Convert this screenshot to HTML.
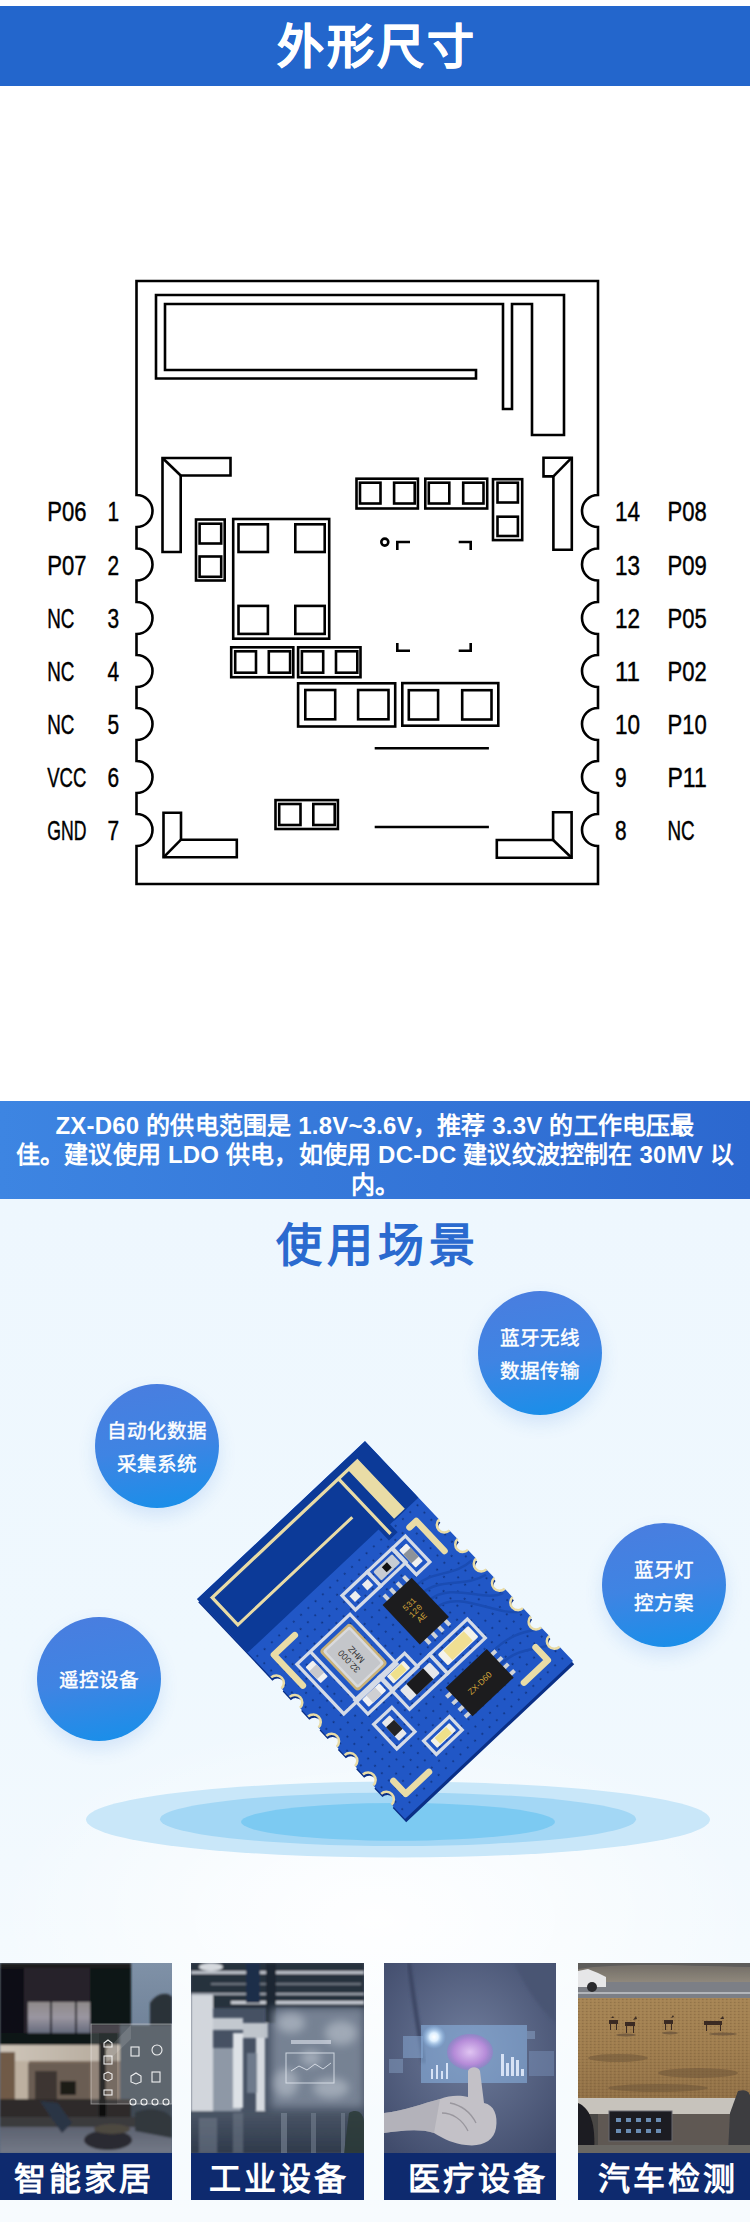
<!DOCTYPE html>
<html lang="zh-CN"><head><meta charset="utf-8">
<style>
*{margin:0;padding:0;box-sizing:border-box}
html,body{width:750px;height:2222px;overflow:hidden;background:#fff;font-family:"Liberation Sans",sans-serif;text-spacing-trim:space-all}
.abs{position:absolute}
#hdr{left:0;top:6px;width:750px;height:80px;background:#2366cc;color:#fff;font-size:47px;font-weight:bold;text-align:center;line-height:82px;letter-spacing:3px;text-indent:3px;overflow:hidden;-webkit-text-stroke:0.4px #fff}
#diag{left:0;top:86px;width:750px;height:1014px}
#note{left:0;top:1101px;width:750px;height:98.5px;background:linear-gradient(90deg,#3d85e2,#2c68cf);color:#fff;font-weight:bold;font-size:24px;line-height:29.4px;text-align:center;padding-top:10px;white-space:nowrap;letter-spacing:0.2px}
#scene{left:0;top:1199px;width:750px;height:1023px;background:radial-gradient(ellipse 380px 200px at 375px 720px,rgba(255,255,255,0.95),rgba(255,255,255,0) 100%),linear-gradient(180deg,#eef7fe 0%,#eff8fe 45%,#f2f9fe 65%,#f6fbfe 80%,#f7fbfe 100%)}
#h2{left:0;top:1213px;width:750px;text-align:center;color:#2a6acf;font-size:46px;font-weight:bold;line-height:64px;letter-spacing:5px;text-indent:5px}
.bub{position:absolute;width:124px;height:124px;border-radius:50%;background:linear-gradient(170deg,#4a7ddf 0%,#3f84e3 50%,#1590ea 100%);color:#fff;font-size:19.5px;font-weight:400;-webkit-text-stroke:0.45px #fff;text-align:center;display:flex;flex-direction:column;justify-content:center;line-height:33px;padding-top:3px;box-shadow:0 8px 18px rgba(50,120,220,0.15)}
.card{position:absolute;top:1963px;height:237px;overflow:hidden}
.card .ph{position:absolute;left:0;top:0;width:100%;height:190px}
.card .lb{position:absolute;left:0;top:190px;width:100%;height:47px;background:#0e2a6e;color:#fff;font-size:32px;font-weight:bold;text-align:center;line-height:52px;letter-spacing:3px;text-indent:-4px;overflow:hidden}
</style></head><body>
<div id="hdr" class="abs">外形尺寸</div>
<svg id="diag" class="abs" width="750" height="1014" viewBox="0 86 750 1014">
<g fill="none" stroke="#000" stroke-width="2.6" stroke-linejoin="miter">
<path d="M136.5,281 H598 V495 A16,16 0 0 0 598,527 V548.5 A16,16 0 0 0 598,580.5 V602 A16,16 0 0 0 598,634 V655 A16,16 0 0 0 598,687 V708 A16,16 0 0 0 598,740 V761 A16,16 0 0 0 598,793 V814 A16,16 0 0 0 598,846 V884 H136.5 V846 A16,16 0 0 0 136.5,814 V793 A16,16 0 0 0 136.5,761 V740 A16,16 0 0 0 136.5,708 V687 A16,16 0 0 0 136.5,655 V634 A16,16 0 0 0 136.5,602 V580.5 A16,16 0 0 0 136.5,548.5 V527 A16,16 0 0 0 136.5,495 Z"/>
<path d="M156,295 L564,295 L564,435 L532,435 L532,304 L512,304 L512,409 L503,409 L503,304 L165,304 L165,370 L476,370 L476,378.5 L156,378.5 Z"/>
<path d="M162.5,458 L230.5,458 L230.5,475.5 L180.7,475.5 L180.7,552 L162.5,552 Z"/>
<path d="M162.5,458 L180.7,475.5"/>
<path d="M543.5,457.7 L571.8,457.7 L571.8,549.8 L553.4,549.8 L553.4,476.4 L543.5,476.4 Z"/>
<path d="M553.4,476.4 L571.8,457.7"/>
<path d="M163.5,812.7 L181,812.7 L181,839.7 L236.8,839.7 L236.8,857.3 L163.5,857.3 Z"/>
<path d="M163.5,857.3 L181,839.7"/>
<path d="M496.8,840 L553.1,840 L553.1,812.2 L571.6,812.2 L571.6,857.7 L496.8,857.7 Z"/>
<path d="M553.1,840 L571.6,857.7"/>
<rect x="196" y="519.5" width="28.7" height="61.0"/>
<rect x="199.6" y="523.7" width="21.6" height="19.8"/>
<rect x="199.6" y="556.5" width="21.6" height="20.3"/>
<rect x="233.2" y="519" width="96.0" height="119.7"/>
<rect x="238.5" y="524.3" width="29.4" height="27.7"/>
<rect x="295.3" y="524.3" width="29.4" height="27.7"/>
<rect x="238.5" y="605.9" width="29.4" height="28.0"/>
<rect x="295.3" y="605.9" width="29.4" height="28.0"/>
<rect x="356.5" y="478.7" width="61.4" height="29.8"/>
<rect x="360" y="482.7" width="20.5" height="20.8"/>
<rect x="394.1" y="482.7" width="20.6" height="20.8"/>
<rect x="425.3" y="478.7" width="61.9" height="29.8"/>
<rect x="428.8" y="482.7" width="20.5" height="20.8"/>
<rect x="463.2" y="482.7" width="20.3" height="20.8"/>
<rect x="493" y="479.2" width="29.2" height="60.9"/>
<rect x="497.5" y="482.7" width="20.4" height="19.8"/>
<rect x="497.5" y="516.7" width="20.4" height="19.3"/>
<rect x="231.2" y="647.3" width="62.1" height="29.9"/>
<rect x="235.2" y="651.3" width="20.8" height="21.4"/>
<rect x="268.8" y="651.3" width="21.3" height="21.4"/>
<rect x="298.1" y="647.3" width="62.4" height="29.9"/>
<rect x="301.9" y="651.3" width="21.3" height="21.4"/>
<rect x="336" y="651.3" width="21.3" height="21.4"/>
<rect x="298.1" y="683.3" width="97.1" height="43.2"/>
<rect x="305.3" y="690" width="29.9" height="29.3"/>
<rect x="358.1" y="690" width="30.4" height="29.3"/>
<rect x="402.3" y="683.1" width="96.0" height="42.6"/>
<rect x="408.8" y="690.2" width="29.3" height="29.3"/>
<rect x="462.2" y="690.2" width="29.3" height="29.3"/>
<rect x="275.5" y="800.1" width="62.4" height="28.9"/>
<rect x="279.2" y="804" width="21.3" height="21"/>
<rect x="313.3" y="804" width="21.4" height="21"/>
<circle cx="384.8" cy="542.1" r="3.5"/>
<path d="M397.3,550 V542 H410 M458.7,542 H470.7 V550 M397.3,643 V650.7 H410 M458.7,650.7 H470.7 V643"/>
<path d="M374.7,748.2 L488.9,748.2"/>
<path d="M374.7,827 L488.9,827"/>
</g>
<g fill="#000" font-family="Liberation Sans" font-size="28" stroke="#000" stroke-width="0.45">
<text x="47.2" y="521" textLength="39.2" lengthAdjust="spacingAndGlyphs">P06</text>
<text x="107.4" y="521" textLength="11.6" lengthAdjust="spacingAndGlyphs">1</text>
<text x="47.2" y="574.5" textLength="39.2" lengthAdjust="spacingAndGlyphs">P07</text>
<text x="107.4" y="574.5" textLength="11.6" lengthAdjust="spacingAndGlyphs">2</text>
<text x="47.2" y="628" textLength="27.2" lengthAdjust="spacingAndGlyphs">NC</text>
<text x="107.4" y="628" textLength="11.6" lengthAdjust="spacingAndGlyphs">3</text>
<text x="47.2" y="681" textLength="27.2" lengthAdjust="spacingAndGlyphs">NC</text>
<text x="107.4" y="681" textLength="11.6" lengthAdjust="spacingAndGlyphs">4</text>
<text x="47.2" y="734" textLength="27.2" lengthAdjust="spacingAndGlyphs">NC</text>
<text x="107.4" y="734" textLength="11.6" lengthAdjust="spacingAndGlyphs">5</text>
<text x="47.2" y="787" textLength="39.2" lengthAdjust="spacingAndGlyphs">VCC</text>
<text x="107.4" y="787" textLength="11.6" lengthAdjust="spacingAndGlyphs">6</text>
<text x="47.2" y="840" textLength="39.2" lengthAdjust="spacingAndGlyphs">GND</text>
<text x="107.4" y="840" textLength="11.6" lengthAdjust="spacingAndGlyphs">7</text>
<text x="615" y="521" textLength="25" lengthAdjust="spacingAndGlyphs">14</text>
<text x="667.5" y="521" textLength="39.2" lengthAdjust="spacingAndGlyphs">P08</text>
<text x="615" y="574.5" textLength="25" lengthAdjust="spacingAndGlyphs">13</text>
<text x="667.5" y="574.5" textLength="39.2" lengthAdjust="spacingAndGlyphs">P09</text>
<text x="615" y="628" textLength="25" lengthAdjust="spacingAndGlyphs">12</text>
<text x="667.5" y="628" textLength="39.2" lengthAdjust="spacingAndGlyphs">P05</text>
<text x="615" y="681" textLength="25" lengthAdjust="spacingAndGlyphs">11</text>
<text x="667.5" y="681" textLength="39.2" lengthAdjust="spacingAndGlyphs">P02</text>
<text x="615" y="734" textLength="25" lengthAdjust="spacingAndGlyphs">10</text>
<text x="667.5" y="734" textLength="39.2" lengthAdjust="spacingAndGlyphs">P10</text>
<text x="615" y="787" textLength="11.6" lengthAdjust="spacingAndGlyphs">9</text>
<text x="667.5" y="787" textLength="39.2" lengthAdjust="spacingAndGlyphs">P11</text>
<text x="615" y="840" textLength="11.6" lengthAdjust="spacingAndGlyphs">8</text>
<text x="667.5" y="840" textLength="27.2" lengthAdjust="spacingAndGlyphs">NC</text>
</g>
</svg>
<div id="note" class="abs">ZX-D60 的供电范围是 1.8V~3.6V，推荐 3.3V 的工作电压最<br>佳。建议使用 LDO 供电，如使用 DC-DC 建议纹波控制在 30MV 以<br>内。</div>
<div id="scene" class="abs"></div>
<div id="h2" class="abs">使用场景</div>
<svg id="pcbsvg" class="abs" style="left:0;top:1380px" width="750" height="500" viewBox="0 1380 750 500">
<ellipse cx="398" cy="1819.6" rx="312" ry="38" fill="#c9e7f9"/>
<ellipse cx="398" cy="1819.3" rx="238" ry="26.7" fill="#a3d7f5"/>
<ellipse cx="398" cy="1821.9" rx="157" ry="18.9" fill="#7ccaf2"/>
<!--PCB-->
<g transform="translate(1.2,3.2)"><path transform="matrix(0.36403,-0.34236,0.34494,0.36484,50.38,1543.21)" d="M136.5,281 H598 V496 A15,15 0 0 0 598,526 V549.5 A15,15 0 0 0 598,579.5 V603 A15,15 0 0 0 598,633 V656 A15,15 0 0 0 598,686 V709 A15,15 0 0 0 598,739 V762 A15,15 0 0 0 598,792 V815 A15,15 0 0 0 598,845 V884 H136.5 V845 A15,15 0 0 0 136.5,815 V792 A15,15 0 0 0 136.5,762 V739 A15,15 0 0 0 136.5,709 V686 A15,15 0 0 0 136.5,656 V633 A15,15 0 0 0 136.5,603 V579.5 A15,15 0 0 0 136.5,549.5 V526 A15,15 0 0 0 136.5,496 Z" fill="#0a2f86"/></g>
<g transform="matrix(0.36403,-0.34236,0.34494,0.36484,50.38,1543.21)">
<defs><clipPath id="bc"><path d="M136.5,281 H598 V496 A15,15 0 0 0 598,526 V549.5 A15,15 0 0 0 598,579.5 V603 A15,15 0 0 0 598,633 V656 A15,15 0 0 0 598,686 V709 A15,15 0 0 0 598,739 V762 A15,15 0 0 0 598,792 V815 A15,15 0 0 0 598,845 V884 H136.5 V845 A15,15 0 0 0 136.5,815 V792 A15,15 0 0 0 136.5,762 V739 A15,15 0 0 0 136.5,709 V686 A15,15 0 0 0 136.5,656 V633 A15,15 0 0 0 136.5,603 V579.5 A15,15 0 0 0 136.5,549.5 V526 A15,15 0 0 0 136.5,496 Z"/></clipPath><pattern id="vias" width="20" height="20" patternUnits="userSpaceOnUse"><circle cx="6" cy="6" r="2.1" fill="#0a2a70"/></pattern></defs>
<path d="M136.5,281 H598 V496 A15,15 0 0 0 598,526 V549.5 A15,15 0 0 0 598,579.5 V603 A15,15 0 0 0 598,633 V656 A15,15 0 0 0 598,686 V709 A15,15 0 0 0 598,739 V762 A15,15 0 0 0 598,792 V815 A15,15 0 0 0 598,845 V884 H136.5 V845 A15,15 0 0 0 136.5,815 V792 A15,15 0 0 0 136.5,762 V739 A15,15 0 0 0 136.5,709 V686 A15,15 0 0 0 136.5,656 V633 A15,15 0 0 0 136.5,603 V579.5 A15,15 0 0 0 136.5,549.5 V526 A15,15 0 0 0 136.5,496 Z" fill="#2157c6"/>
<g clip-path="url(#bc)">
<path d="M130,275 H610 V436 H520 V458 H496 V428 H130 Z" fill="#0c3a98"/>
<rect x="140" y="440" width="450" height="440" fill="url(#vias)" opacity="0.8"/>
<g fill="none" stroke="#1a4cb3" stroke-width="5"><path d="M470,560 C520,560 540,600 590,600"/><path d="M470,580 C520,580 540,630 590,640"/><path d="M470,600 C530,600 550,680 590,690"/><path d="M470,620 C530,620 550,720 590,740"/><path d="M489,760 C540,760 560,770 590,790"/><path d="M489,790 C540,790 560,820 590,830"/></g>
</g>
<path d="M156,295 L564,295 L564,435 L532,435 L532,304 L512,304 L512,452 L503,452 L503,304 L165,304 L165,370 L476,370 L476,378.5 L156,378.5 Z" fill="#e9dca6" stroke="#0c3a98" stroke-width="2.5" stroke-linejoin="round"/>
<g fill="none" stroke="#e9dca6" stroke-width="13" stroke-linecap="round" stroke-linejoin="round"><path d="M229,467 H171.5 V551"/><path d="M544,467 H562.5 V549"/><path d="M172,813 V848.5 H236"/><path d="M497,848.5 H562.5 V813"/></g>
<path d="M598,496 A15,15 0 0 0 598,526 M136.5,526 A15,15 0 0 0 136.5,496 M598,549.5 A15,15 0 0 0 598,579.5 M136.5,579.5 A15,15 0 0 0 136.5,549.5 M598,603 A15,15 0 0 0 598,633 M136.5,633 A15,15 0 0 0 136.5,603 M598,656 A15,15 0 0 0 598,686 M136.5,686 A15,15 0 0 0 136.5,656 M598,709 A15,15 0 0 0 598,739 M136.5,739 A15,15 0 0 0 136.5,709 M598,762 A15,15 0 0 0 598,792 M136.5,792 A15,15 0 0 0 136.5,762 M598,815 A15,15 0 0 0 598,845 M136.5,845 A15,15 0 0 0 136.5,815" fill="none" stroke="#e9dca6" stroke-width="5"/>
<g fill="none" stroke="#d5dbe6" stroke-width="6.5"><rect x="192" y="512" width="146" height="136"/><rect x="352" y="474" width="70" height="39"/><rect x="421" y="474" width="70" height="39"/><rect x="489" y="474" width="37" height="71"/><rect x="227" y="643" width="70" height="38"/><rect x="221" y="704" width="50" height="67"/><rect x="294" y="643" width="70" height="38"/><rect x="294" y="679" width="105" height="52"/><rect x="398" y="679" width="104" height="52"/><rect x="271" y="796" width="71" height="37"/><path d="M229,512 V648"/></g>
<rect x="200.5" y="528.0" width="20" height="44" fill="#f0f0f0" rx="2"/><rect x="200.5" y="539.0" width="20" height="22.0" fill="#c9c9cc"/>
<rect x="362" y="485" width="16" height="16" fill="#eeeeee"/><rect x="396" y="485" width="16" height="16" fill="#eeeeee"/>
<rect x="430" y="482" width="52" height="24" fill="#c7ccd3" rx="3"/><rect x="449" y="487" width="14" height="14" fill="#111"/>
<rect x="497.5" y="486.0" width="20" height="48" fill="#f0f0f0" rx="2"/><rect x="497.5" y="498.0" width="20" height="24.0" fill="#8d9299"/>
<rect x="238.0" y="652.0" width="48" height="20" fill="#f2f2f2" rx="2"/><rect x="250.0" y="652.0" width="24.0" height="20" fill="#cfcfd2"/>
<rect x="235.0" y="712.5" width="22" height="50" fill="#e8e8ea" rx="2"/><rect x="235.0" y="725.0" width="22" height="25.0" fill="#232325"/>
<rect x="306" y="652" width="46" height="20" fill="#f3f1e6" rx="2"/><rect x="314" y="654" width="30" height="16" fill="#efe08a"/>
<rect x="306" y="690" width="82" height="30" fill="#e5e7ea" rx="3"/><rect x="324" y="690" width="46" height="30" fill="#1b1b1d"/>
<rect x="410" y="690" width="84" height="30" fill="#f4f2ea" rx="3"/><rect x="424" y="692" width="56" height="26" fill="#f0df93"/>
<rect x="281" y="805" width="52" height="20" fill="#f3f1e6" rx="2"/><rect x="291" y="807" width="32" height="16" fill="#efe08a"/>
<rect x="242" y="523" width="84" height="112" rx="8" fill="#c9b27a"/><rect x="247" y="528" width="74" height="102" rx="5" fill="#d9dadd"/><rect x="252" y="533" width="64" height="92" rx="3" fill="#c4c6ca"/>
<g font-family="Liberation Sans" font-size="18" fill="#333" text-anchor="middle"><text transform="translate(278,579) rotate(-90)">32.000</text><text transform="translate(298,579) rotate(-90)">MHZ</text></g>
<g fill="#cfd3d8"><rect x="410" y="530" width="8" height="16"/><rect x="410" y="648" width="8" height="16"/><rect x="428" y="530" width="8" height="16"/><rect x="428" y="648" width="8" height="16"/><rect x="446" y="530" width="8" height="16"/><rect x="446" y="648" width="8" height="16"/><rect x="464" y="530" width="8" height="16"/><rect x="464" y="648" width="8" height="16"/></g>
<rect x="398" y="543" width="80" height="108" fill="#1c1c1e"/>
<g font-family="Liberation Mono" font-size="17" fill="#d2a53a" text-anchor="middle"><text x="438" y="584">531</text><text x="438" y="602">120</text><text x="438" y="620">AE</text></g>
<g fill="#cfd3d8"><rect x="364" y="760" width="14" height="8"/><rect x="486" y="760" width="14" height="8"/><rect x="364" y="778" width="14" height="8"/><rect x="486" y="778" width="14" height="8"/><rect x="364" y="796" width="14" height="8"/><rect x="486" y="796" width="14" height="8"/><rect x="364" y="814" width="14" height="8"/><rect x="486" y="814" width="14" height="8"/></g>
<rect x="376" y="749" width="113" height="78" fill="#1c1c1e"/>
<text x="432" y="795" font-family="Liberation Sans" font-size="17" fill="#d2a53a" text-anchor="middle">ZX-D60</text>
</g>
<!--/PCB-->
</svg>
<div class="bub" style="left:478px;top:1291px">蓝牙无线<br>数据传输</div>
<div class="bub" style="left:95px;top:1384px">自动化数据<br>采集系统</div>
<div class="bub" style="left:602px;top:1523px">蓝牙灯<br>控方案</div>
<div class="bub" style="left:37px;top:1617px">遥控设备</div>
<div class="card" style="left:0;width:172px"><div class="ph"><svg width="172" height="190" viewBox="0 0 172 190">
<defs><linearGradient id="sky1" x1="0" y1="0" x2="0" y2="1"><stop offset="0" stop-color="#7f91a7"/><stop offset="1" stop-color="#56687f"/></linearGradient>
<linearGradient id="win1" x1="0" y1="0" x2="0" y2="1"><stop offset="0" stop-color="#8f8a8a"/><stop offset="0.5" stop-color="#9a96a0"/><stop offset="1" stop-color="#656a7c"/></linearGradient>
<linearGradient id="ceil1" x1="0" y1="0" x2="1" y2="0"><stop offset="0" stop-color="#cfc6ba"/><stop offset="1" stop-color="#b3a89a"/></linearGradient>
<linearGradient id="ter1" x1="0" y1="0" x2="0" y2="1"><stop offset="0" stop-color="#5d6270"/><stop offset="1" stop-color="#737987"/></linearGradient>
<filter id="bl1"><feGaussianBlur stdDeviation="0.8"/></filter></defs>
<rect width="172" height="190" fill="url(#sky1)"/>
<g filter="url(#bl1)">
<path d="M150,40 C156,30 168,28 172,34 L172,62 L150,62Z" fill="#2b3138"/>
<rect x="0" y="0" width="131" height="82" fill="#27232a"/>
<rect x="0" y="0" width="24" height="80" fill="#0d0e13"/>
<rect x="90" y="0" width="41" height="62" fill="#101218"/>
<rect x="0" y="0" width="131" height="5" fill="#1a1a1f"/>
<rect x="28" y="39" width="62" height="31" fill="url(#win1)"/>
<rect x="50" y="39" width="2" height="31" fill="#1a1c25"/><rect x="75" y="39" width="2" height="31" fill="#1a1c25"/>
<rect x="0" y="70" width="131" height="12" fill="#101217"/>
<rect x="0" y="82" width="120" height="16" fill="url(#ceil1)"/>
<rect x="0" y="98" width="131" height="40" fill="#7d6c5e"/>
<rect x="15" y="98" width="14" height="40" fill="#bdb0a0"/>
<rect x="28" y="100" width="62" height="38" fill="#6b5d52"/>
<rect x="35" y="108" width="22" height="30" fill="#3e3430"/>
<rect x="60" y="118" width="16" height="14" fill="#1d1a18"/>
<rect x="0" y="89" width="15" height="68" fill="#6f5a47"/>
<rect x="120" y="62" width="52" height="95" fill="#3f4853"/>
<rect x="0" y="136" width="131" height="18" fill="#2f2c2b"/>
<rect x="99" y="80" width="7" height="77" fill="#0f0f10"/>
<rect x="0" y="154" width="172" height="10" fill="#3a3a3e"/>
<rect x="0" y="164" width="172" height="26" fill="url(#ter1)"/>
<path d="M40,138 L58,140 L72,160 L62,170 L48,150Z" fill="#2c3444"/>
<ellipse cx="108" cy="177" rx="24" ry="10" fill="#2a2b30"/>
<ellipse cx="112" cy="166" rx="18" ry="5" fill="#4d4840"/>
<path d="M135,150 C150,142 172,148 172,158 L172,175 L135,168Z" fill="#30373c"/>
</g>
<rect x="91" y="61" width="81" height="80" fill="#ffffff" fill-opacity="0.16" stroke="#ffffff" stroke-opacity="0.4" stroke-width="1"/>
<rect x="99" y="70" width="18" height="71" fill="#000" fill-opacity="0.18"/>
<path d="M106,88 L131,62 L131,76 L106,100Z" fill="#fff" fill-opacity="0.12"/>
<g fill="none" stroke="#fff" stroke-width="1.1" opacity="0.9">
<path d="M104,80 l4,-3 l4,3 v4 h-8z"/><rect x="104" y="93" width="8" height="8"/><path d="M104,111 l4,-2 l4,2 v5 l-4,2 l-4,-2z"/><rect x="104" y="127" width="8" height="5"/>
<rect x="131" y="84" width="8" height="9"/><circle cx="157" cy="87" r="5"/>
<path d="M131,113 l5,-3 l5,3 v6 l-5,2 l-5,-2z"/><rect x="152" y="109" width="8" height="10"/>
<circle cx="133" cy="139" r="3"/><circle cx="144" cy="139" r="3"/><circle cx="155" cy="139" r="3"/><circle cx="166" cy="139" r="3"/>
</g>
</svg></div><div class="lb">智能家居</div></div>
<div class="card" style="left:191px;width:173px"><div class="ph"><svg width="173" height="190" viewBox="0 0 173 190">
<defs><filter id="bl2"><feGaussianBlur stdDeviation="0.8"/></filter><filter id="bl2b"><feGaussianBlur stdDeviation="4"/></filter>
<linearGradient id="fl2" x1="0" y1="0" x2="0" y2="1"><stop offset="0" stop-color="#4a5566"/><stop offset="1" stop-color="#2f3a4b"/></linearGradient></defs>
<rect width="173" height="190" fill="#465163"/>
<g filter="url(#bl2)">
<rect x="0" y="0" width="173" height="45" fill="#27303c"/>
<rect x="0" y="8" width="173" height="3" fill="#b9bec6"/>
<rect x="0" y="30" width="173" height="2" fill="#9ca3ad"/>
<rect x="40" y="38" width="133" height="3" fill="#c9ced5"/>
<rect x="20" y="20" width="150" height="2" fill="#6d7580"/>
<rect x="55" y="0" width="14" height="40" fill="#1f2d4a"/>
<rect x="75" y="0" width="10" height="60" fill="#1e2633"/>
<ellipse cx="20" cy="4" rx="12" ry="4" fill="#d5d9de"/>
<rect x="0" y="32" width="22" height="125" fill="#d2d6dc"/>
<rect x="22" y="55" width="30" height="12" fill="#c3c8cf"/>
<rect x="22" y="85" width="28" height="70" fill="#8e98a6"/>
<rect x="42" y="70" width="10" height="75" fill="#dde1e6"/>
<rect x="52" y="60" width="25" height="15" fill="#bfc5cc"/>
<rect x="65" y="75" width="9" height="75" fill="#d6dae0"/>
<rect x="56" y="90" width="10" height="40" fill="#6e7a8c"/>
<rect x="0" y="148" width="173" height="42" fill="url(#fl2)"/>
<rect x="8" y="155" width="18" height="35" fill="#6f7a88" opacity="0.6"/>
<rect x="42" y="150" width="10" height="40" fill="#737e8c" opacity="0.5"/>
</g>
<rect x="80" y="45" width="93" height="100" fill="#8793a4" opacity="0.75" filter="url(#bl2b)"/>
<g filter="url(#bl2b)" fill="#c3cad4" opacity="0.55"><ellipse cx="100" cy="60" rx="14" ry="10"/><ellipse cx="150" cy="70" rx="16" ry="12"/><ellipse cx="95" cy="120" rx="12" ry="14"/><ellipse cx="140" cy="125" rx="18" ry="10"/><ellipse cx="120" cy="95" rx="10" ry="8"/></g>
<g opacity="0.5"><rect x="90" y="150" width="6" height="40" fill="#8a95a5"/><rect x="120" y="150" width="5" height="40" fill="#7e8999"/><rect x="150" y="150" width="4" height="40" fill="#7e8999"/></g>
<rect x="95" y="90" width="48" height="30" fill="none" stroke="#e6ebf2" stroke-width="1" opacity="0.8"/>
<path d="M100,108 l8,-5 l8,4 l8,-6 l8,5 l8,-6" fill="none" stroke="#e6ebf2" stroke-width="1" opacity="0.8"/>
<rect x="100" y="77" width="40" height="4" fill="#dfe5ee" opacity="0.6"/>
<path d="M158,150 c8,-5 15,0 15,10 l0,30 l-20,0z" fill="#2a3a36" opacity="0.8"/>
</svg></div><div class="lb" style="text-indent:3px">工业设备</div></div>
<div class="card" style="left:384px;width:172px"><div class="ph"><svg width="172" height="190" viewBox="0 0 172 190">
<defs><radialGradient id="bg3" cx="0.5" cy="0.45" r="0.7"><stop offset="0" stop-color="#6f7c9b"/><stop offset="1" stop-color="#414c6c"/></radialGradient>
<radialGradient id="br3" cx="0.5" cy="0.5" r="0.5"><stop offset="0" stop-color="#e0c4f2"/><stop offset="0.7" stop-color="#b58bd8"/><stop offset="1" stop-color="#9b7bc8" stop-opacity="0.6"/></radialGradient>
<radialGradient id="fl3" cx="0.5" cy="0.5" r="0.5"><stop offset="0" stop-color="#fff"/><stop offset="0.35" stop-color="#dff0ff"/><stop offset="1" stop-color="#8fc0f0" stop-opacity="0"/></radialGradient>
<filter id="bl3"><feGaussianBlur stdDeviation="1.5"/></filter><filter id="bl3b"><feGaussianBlur stdDeviation="0.7"/></filter></defs>
<rect width="172" height="190" fill="url(#bg3)"/>
<path d="M130,0 C140,20 150,40 172,60 L172,0Z" fill="#4a5573" filter="url(#bl3)"/>
<path d="M25,0 C30,40 35,70 40,100" stroke="#3b4562" stroke-width="4" fill="none" filter="url(#bl3)"/>
<rect x="37" y="62" width="106" height="58" fill="#8db7e6" opacity="0.55" filter="url(#bl3b)"/>
<rect x="19" y="73" width="20" height="22" fill="#89acd8" opacity="0.5"/>
<rect x="5" y="96" width="14" height="14" fill="#8aa4c8" opacity="0.45"/>
<rect x="145" y="88" width="25" height="25" fill="#7d95bd" opacity="0.45"/>
<rect x="143" y="68" width="8" height="8" fill="#8aa4c8" opacity="0.5"/>
<g fill="#e8f0ff" opacity="0.85"><rect x="117" y="91" width="3" height="22"/><rect x="122" y="100" width="3" height="13"/><rect x="127" y="94" width="3" height="19"/><rect x="132" y="97" width="3" height="16"/><rect x="137" y="106" width="3" height="7"/>
<rect x="47" y="106" width="2" height="10"/><rect x="52" y="102" width="2" height="14"/><rect x="57" y="108" width="2" height="8"/><rect x="62" y="100" width="2" height="16"/></g>
<ellipse cx="86" cy="89" rx="23" ry="18" fill="url(#br3)" filter="url(#bl3b)"/>
<circle cx="50" cy="74" r="12" fill="url(#fl3)"/>
<path d="M84,108 C86,103 94,103 96,108 L100,140 C110,142 114,152 112,165 C110,178 98,184 82,182 C70,181 60,176 50,170 C35,165 15,168 0,170 L0,150 C20,148 40,140 56,136 C66,132 76,132 84,134 Z" fill="#c3c1c7" filter="url(#bl3b)"/>
<path d="M58,150 C68,150 78,156 84,168 M66,140 C76,142 86,148 92,160" stroke="#8f8c94" stroke-width="1.3" fill="none" opacity="0.8"/>
<path d="M0,150 C20,148 40,140 56,136 L50,170 C35,165 15,168 0,170Z" fill="#a9a8b0" opacity="0.6"/>
</svg></div><div class="lb" style="text-indent:16px">医疗设备</div></div>
<div class="card" style="left:578px;width:172px"><div class="ph"><svg width="173" height="190" viewBox="0 0 173 190">
<defs><linearGradient id="fd4" x1="0" y1="0" x2="0" y2="1"><stop offset="0" stop-color="#ab8a5a"/><stop offset="0.45" stop-color="#9e7c4e"/><stop offset="0.75" stop-color="#8d6d45"/><stop offset="1" stop-color="#7b5e3c"/></linearGradient>
<linearGradient id="hl4" x1="0" y1="0" x2="0" y2="1"><stop offset="0" stop-color="#6f6a64"/><stop offset="1" stop-color="#8f887c"/></linearGradient>
<pattern id="nz4" width="4" height="3" patternUnits="userSpaceOnUse"><rect x="0" y="0" width="1.5" height="1" fill="#6f5432" opacity="0.35"/><rect x="2" y="1.5" width="1.5" height="1" fill="#c29d66" opacity="0.35"/></pattern>
<filter id="bl4"><feGaussianBlur stdDeviation="0.6"/></filter></defs>
<rect width="173" height="190" fill="url(#fd4)"/>
<g filter="url(#bl4)">
<rect x="0" y="0" width="173" height="19" fill="url(#hl4)"/>
<path d="M0,6 C40,0 90,2 173,4 L173,0 L0,0Z" fill="#5d5b5a"/>
<rect x="0" y="19" width="173" height="16" fill="#7c7f86"/>
<rect x="0" y="29" width="173" height="2" fill="#b2b5ba"/>
<rect x="0" y="35" width="173" height="100" fill="url(#nz4)"/>
<path d="M0,8 L10,6 L20,10 L28,14 L28,24 L0,24Z" fill="#e6e6e8"/>
<circle cx="14" cy="24" r="5" fill="#2b2b2e"/>
<g fill="#6b5236" opacity="0.5"><ellipse cx="40" cy="95" rx="30" ry="4"/><ellipse cx="120" cy="110" rx="40" ry="5"/><ellipse cx="80" cy="125" rx="50" ry="4"/></g><g fill="#3a2c22"><path d="M31,57 h9 v4 h-1 v6 h-1 v-6 h-5 v6 h-1 v-6 h-1z M33,55 l2,-2 l1,2z"/><path d="M47,59 h10 v4 h-1 v7 h-1 v-7 h-6 v7 h-1 v-7 h-1z M55,57 l3,-4 l1,3z"/><path d="M86,57 h9 v4 h-1 v6 h-1 v-6 h-5 v6 h-1 v-6 h-1z M93,55 l2,-3 l1,2z"/><path d="M126,58 h18 v4 h-1 v6 h-1 v-6 h-13 v6 h-1 v-6 h-2z M142,56 l3,-3 l1,3z"/></g><g fill="#5e4a36" opacity="0.6"><ellipse cx="48" cy="72" rx="10" ry="1.5"/><ellipse cx="92" cy="70" rx="8" ry="1.5"/><ellipse cx="145" cy="71" rx="14" ry="1.5"/></g>
<rect x="0" y="135" width="173" height="16" fill="#c7c3bc"/>
<rect x="0" y="151" width="173" height="39" fill="#4a4644"/>
<rect x="20" y="151" width="153" height="35" fill="#5e5853"/>
<rect x="31" y="148" width="63" height="30" fill="#1c1c20" stroke="#6b6b70" stroke-width="1"/>
<g fill="#7fa8d8" opacity="0.8"><rect x="38" y="155" width="5" height="4"/><rect x="48" y="155" width="5" height="4"/><rect x="58" y="155" width="5" height="4"/><rect x="68" y="155" width="5" height="4"/><rect x="78" y="155" width="5" height="4"/>
<rect x="38" y="166" width="5" height="4"/><rect x="48" y="166" width="5" height="4"/><rect x="58" y="166" width="5" height="4"/><rect x="68" y="166" width="5" height="4"/><rect x="78" y="166" width="5" height="4"/></g>
<path d="M0,140 C12,145 18,160 16,190 L0,190Z" fill="#1d1d20"/>
<path d="M160,128 C170,125 173,130 173,140 L173,190 L150,190 L152,150Z" fill="#3c3d41"/>
<rect x="0" y="182" width="173" height="8" fill="#6a6864"/>
</g>
</svg></div><div class="lb" style="text-indent:7px">汽车检测</div></div>
</body></html>
